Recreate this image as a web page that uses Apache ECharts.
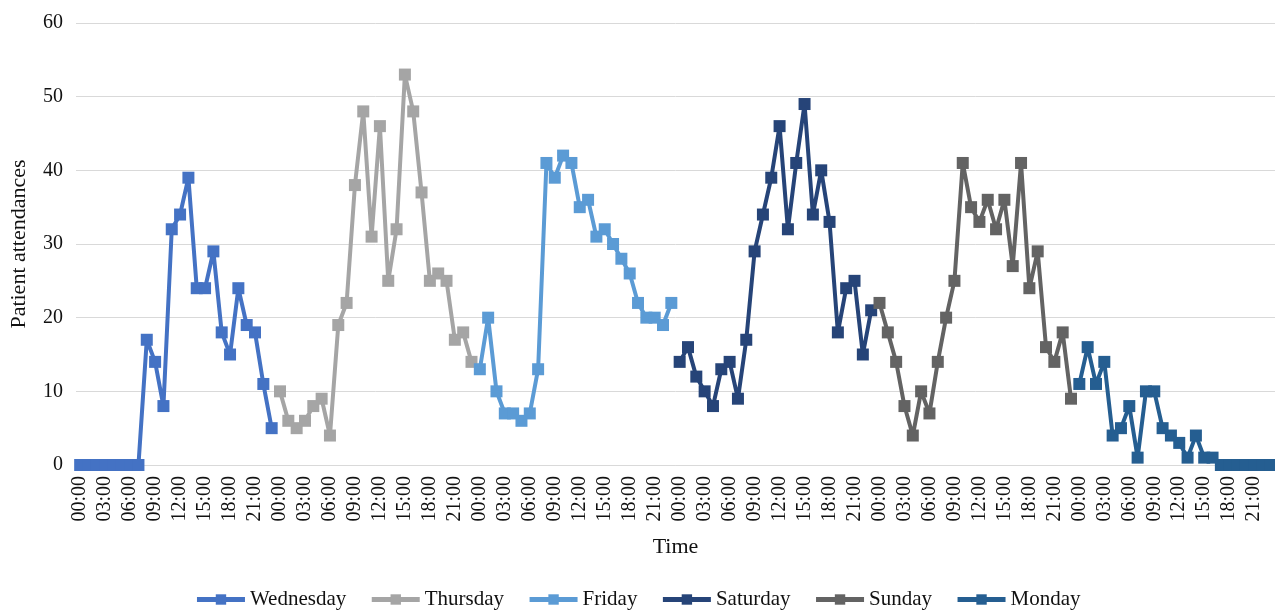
<!DOCTYPE html>
<html><head><meta charset="utf-8">
<script src="https://cdn.jsdelivr.net/npm/echarts@6/dist/echarts.min.js"></script>
<style>html,body{margin:0;padding:0;background:#fff}#c{width:1275px;height:610px}</style>
</head><body><div id="c"></div>
<script>
const hours = ["00:00","01:00","02:00","03:00","04:00","05:00","06:00","07:00","08:00","09:00","10:00","11:00","12:00","13:00","14:00","15:00","16:00","17:00","18:00","19:00","20:00","21:00","22:00","23:00"];
const days = ["Wednesday","Thursday","Friday","Saturday","Sunday","Monday"];
const wednesday = [0,0,0,0,0,0,0,0,17,14,8,32,34,39,24,24,29,18,15,24,19,18,11,5];
const thursday  = [10,6,5,6,8,9,4,19,22,38,48,31,46,25,32,53,48,37,25,26,25,17,18,14];
const friday    = [13,20,10,7,7,6,7,13,41,39,42,41,35,36,31,32,30,28,26,22,20,20,19,22];
const saturday  = [14,16,12,10,8,13,14,9,17,29,34,39,46,32,41,49,34,40,33,18,24,25,15,21];
const sunday    = [22,18,14,8,4,10,7,14,20,25,41,35,33,36,32,36,27,41,24,29,16,14,18,9];
const monday    = [11,16,11,14,4,5,8,1,10,10,5,4,3,1,4,1,1,0,0,0,0,0,0,0];
const colors = ["#4472C4","#A5A5A5","#5B9BD5","#264478","#636363","#255E91"];
const yTicks = [0,10,20,30,40,50,60];

const dayValues = [wednesday,thursday,friday,saturday,sunday,monday];
const categories = [];
days.forEach(() => hours.forEach(h => categories.push(h)));
const total = categories.length;

const series = dayValues.map((vals, d) => {
  const data = new Array(total).fill(null);
  vals.forEach((v, i) => { data[d * 24 + i] = v; });
  return {
    name: days[d], type: 'line', data: data,
    symbol: 'rect', symbolSize: 12, showSymbol: true, showAllSymbol: true,
    connectNulls: false,
    lineStyle: { width: 4, color: colors[d] },
    itemStyle: { color: colors[d] },
    emphasis: { disabled: true },
    animation: false
  };
});

const font = "'Liberation Serif', 'Times New Roman', serif";
const chart = echarts.init(document.getElementById('c'));
chart.setOption({
  animation: false,
  textStyle: { fontFamily: font },
  grid: { left: 74, right: 0, top: 23, bottom: 145, containLabel: false },
  legend: {
    data: days, left: 'center', top: 584,
    itemWidth: 48, itemHeight: 13, itemGap: 23,
    lineStyle: { width: 5 },
    textStyle: { fontFamily: font, fontSize: 21, color: '#111' }
  },
  xAxis: {
    type: 'category', data: categories, boundaryGap: true,
    name: 'Time', nameLocation: 'middle', nameGap: 71,
    nameTextStyle: { fontFamily: font, fontSize: 22, color: '#111' },
    axisLine: { show: true, lineStyle: { color: '#d9d9d9', width: 1 } },
    axisTick: { show: false },
    axisLabel: { interval: 2, rotate: 90, fontFamily: font, fontSize: 20, color: '#111', margin: 11 },
    splitLine: { show: false }
  },
  yAxis: {
    type: 'value', min: yTicks[0], max: yTicks[yTicks.length - 1], interval: 10,
    name: 'Patient attendances', nameLocation: 'middle', nameGap: 46,
    nameTextStyle: { fontFamily: font, fontSize: 22, color: '#111' },
    axisLine: { show: false }, axisTick: { show: false },
    axisLabel: { fontFamily: font, fontSize: 20, color: '#111', margin: 13 },
    splitLine: { lineStyle: { color: '#d9d9d9', width: 1 } }
  },
  series: series
});
</script></body></html>
